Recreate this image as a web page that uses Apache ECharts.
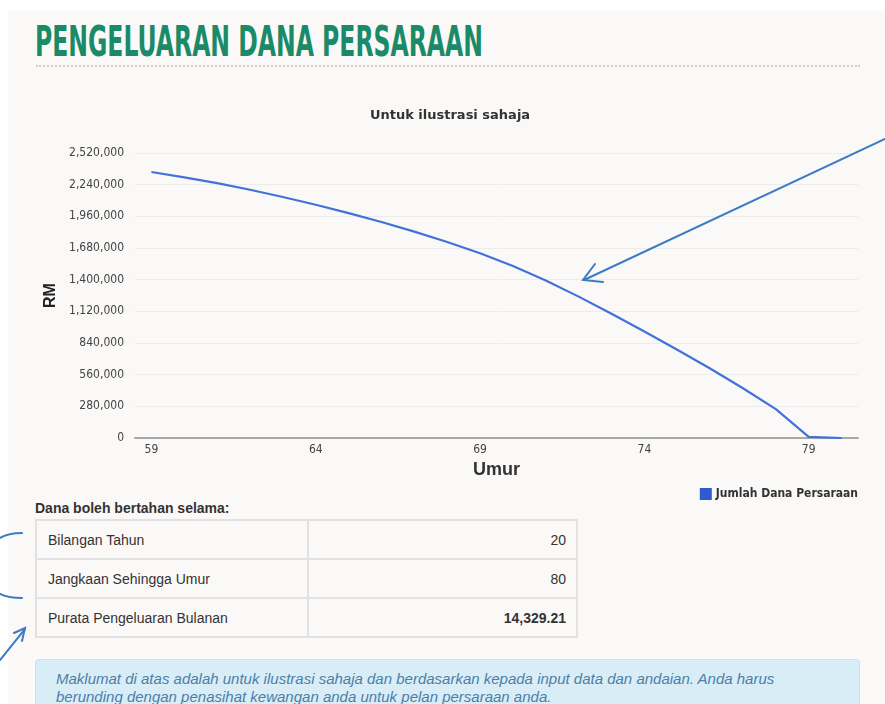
<!DOCTYPE html>
<html>
<head>
<meta charset="utf-8">
<script src="https://cdn.jsdelivr.net/npm/echarts@6/dist/echarts.min.js"></script>
<style>
  html, body { margin: 0; padding: 0; background: #ffffff; width: 885px; height: 704px; overflow: hidden; }
  #page { position: absolute; left: 8px; top: 11px; right: 0; bottom: 0; background: #faf9f8; }
  #ptitle { position: absolute; left: 35px; top: 21px; font-family: "DejaVu Sans Condensed", "Liberation Sans Narrow", sans-serif; font-weight: bold; font-size: 42px; line-height: 42px; color: #1b8a68; white-space: nowrap; transform-origin: 0 0; }
  #rule { position: absolute; left: 36px; top: 65px; width: 824px; border-top: 2px dotted #cfcfcf; }
  #chart { position: absolute; left: 0; top: 0; width: 885px; height: 500px; }
  #sub { position: absolute; left: 35px; top: 500px; font: bold 14px "Liberation Sans", Arial, sans-serif; color: #333; }
  table { position: absolute; left: 35px; top: 519px; border-collapse: collapse; width: 543px; font: 14px "Liberation Sans", Arial, sans-serif; color: #333; background: #faf9f8; }
  td { border: 2px solid #e2e2e2; height: 39px; padding: 0 10px 0 11px; box-sizing: border-box; }
  td.v { text-align: right; }
  #info { position: absolute; left: 35px; top: 659px; width: 783px; height: 60px; padding: 10px 20px; background: #d9edf7; border: 1px solid #bce8f1; border-radius: 4px; font: italic 15px "Liberation Sans", Arial, sans-serif; line-height: 18px; color: #4a7fa8; }
  svg { position: absolute; left: 0; top: 0; }
</style>
</head>
<body>
<div id="page"></div>
<div id="ptitle">PENGELUARAN DANA PERSARAAN</div>
<div id="rule"></div>
<div id="chart"></div>
<div id="sub">Dana boleh bertahan selama:</div>
<table id="tbl"></table>
<div id="info">Maklumat di atas adalah untuk ilustrasi sahaja dan berdasarkan kepada input data dan andaian. Anda harus berunding dengan penasihat kewangan anda untuk pelan persaraan anda.</div>
<svg width="885" height="704">
  <g fill="none" stroke="#3d7bc2" stroke-width="2" stroke-linecap="round">
    <path d="M885,139 L584,280"/>
    <path d="M595,264 L583,280 L603,282"/>
    <path d="M0,538 Q8,533 22,533"/>
    <path d="M0,594 Q8,598 22,598"/>
    <path d="M0,660 L25,629"/>
    <path d="M14,633 L25,628 L22,641"/>
  </g>
</svg>
<script>
// ---- data ----
var ages = ['59','60','61','62','63','64','65','66','67','68','69','70','71','72','73','74','75','76','77','78','79','80'];
var fund = [2352000, 2305000, 2253000, 2195000, 2131000, 2062000, 1988000, 1910000, 1825000, 1733000, 1633000, 1520000, 1392000, 1250000, 1098000, 942000, 780000, 614000, 440000, 255000, 10000, 0];
var yTicksMax = 2520000;
var yTickStep = 280000;
var tableLabels = ['Bilangan Tahun', 'Jangkaan Sehingga Umur', 'Purata Pengeluaran Bulanan'];
var tableValues = ['20', '80', '14,329.21'];

// ---- table ----
var tbl = document.getElementById('tbl');
for (var i = 0; i < tableLabels.length; i++) {
  var tr = document.createElement('tr');
  var a = document.createElement('td'); a.textContent = tableLabels[i]; a.style.width = '272px';
  var b = document.createElement('td'); b.className = 'v'; b.textContent = tableValues[i];
  if (i === 2) b.style.fontWeight = 'bold';
  tr.appendChild(a); tr.appendChild(b); tbl.appendChild(tr);
}

// ---- fit title width ----
var pt = document.getElementById('ptitle');
var w = pt.getBoundingClientRect().width;
pt.style.transform = 'scaleX(' + (448 / w) + ')';

// ---- chart ----
var narrow = '"Liberation Sans Narrow", "DejaVu Sans Condensed", sans-serif';
var chart = echarts.init(document.getElementById('chart'), null, { renderer: 'canvas' });
chart.setOption({
  backgroundColor: 'transparent',
  animation: false,
  title: {
    text: 'Untuk ilustrasi sahaja',
    left: 445, top: 104, textAlign: 'center',
    textStyle: { fontFamily: '"DejaVu Sans", sans-serif', fontSize: 13, fontWeight: 'bold', color: '#333' }
  },
  legend: {
    right: 22, top: 483,
    itemWidth: 12, itemHeight: 12, icon: 'rect', itemGap: 5,
    textStyle: { fontFamily: narrow, fontSize: 12, fontWeight: 'bold', color: '#333', padding: [0, 0, 0, -1] },
    data: ['Jumlah Dana Persaraan']
  },
  grid: { left: 135, right: 27, top: 153, bottom: 62, containLabel: false },
  xAxis: {
    type: 'category', data: ages, boundaryGap: true,
    name: 'Umur', nameLocation: 'middle', nameGap: 23,
    nameTextStyle: { fontFamily: '"Liberation Sans", Arial, sans-serif', fontSize: 18, fontWeight: 'bold', color: '#333' },
    axisLine: { lineStyle: { color: '#a8a8a8', width: 2 } },
    axisTick: { show: false },
    axisLabel: { interval: 4, margin: 6, fontFamily: narrow, fontSize: 12, color: '#444' },
    splitLine: { show: false }
  },
  yAxis: {
    type: 'value', min: 0, max: yTicksMax, interval: yTickStep,
    name: 'RM', nameLocation: 'middle', nameGap: 62,
    nameTextStyle: { fontFamily: '"Liberation Sans", Arial, sans-serif', fontSize: 16, fontWeight: 'bold', color: '#222' },
    axisLine: { show: false }, axisTick: { show: false },
    axisLabel: { margin: 11, fontFamily: narrow, fontSize: 12, color: '#444',
      formatter: function (v) { return v.toLocaleString('en-US'); } },
    splitLine: { lineStyle: { color: '#ececec', width: 1 } }
  },
  series: [{
    name: 'Jumlah Dana Persaraan', type: 'line', data: fund,
    smooth: false, showSymbol: false, symbol: 'none',
    lineStyle: { color: '#4272d7', width: 2.2, join: 'round' },
    itemStyle: { color: '#2c5ccd' }
  }]
});
</script>
</body>
</html>
